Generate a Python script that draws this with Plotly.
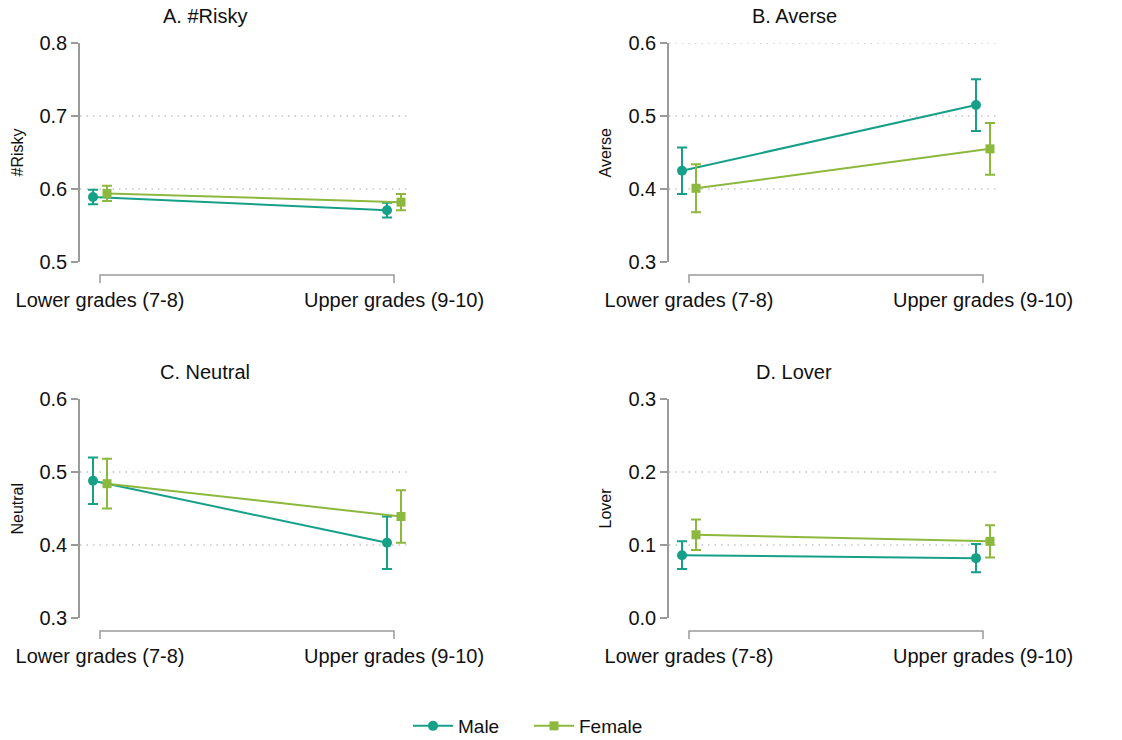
import plotly.graph_objects as go

# Grade groups on the x axis
grades = ["Lower grades (7-8)", "Upper grades (9-10)"]
groups = ["Male", "Female"]

# Panel titles and y-axis labels
panel_titles = ["A. #Risky", "B. Averse", "C. Neutral", "D. Lover"]
panel_ylabels = ["#Risky", "Averse", "Neutral", "Lover"]
panel_yranges = [(0.5, 0.8), (0.3, 0.6), (0.3, 0.6), (0.0, 0.3)]
panel_grid = [[0.6, 0.7], [0.4, 0.5, 0.6], [0.4, 0.5], [0.1, 0.2]]

# Means by grade group
risky_male = [0.589, 0.571]
risky_female = [0.594, 0.582]
averse_male = [0.425, 0.515]
averse_female = [0.401, 0.455]
neutral_male = [0.488, 0.403]
neutral_female = [0.484, 0.439]
lover_male = [0.086, 0.082]
lover_female = [0.114, 0.105]

# Half-widths of the confidence intervals
risky_male_ci = [0.010, 0.010]
risky_female_ci = [0.0105, 0.011]
averse_male_ci = [0.032, 0.0355]
averse_female_ci = [0.033, 0.0355]
neutral_male_ci = [0.032, 0.036]
neutral_female_ci = [0.034, 0.036]
lover_male_ci = [0.019, 0.0195]
lover_female_ci = [0.021, 0.022]

male_means = [risky_male, averse_male, neutral_male, lover_male]
female_means = [risky_female, averse_female, neutral_female, lover_female]
male_ci = [risky_male_ci, averse_male_ci, neutral_male_ci, lover_male_ci]
female_ci = [risky_female_ci, averse_female_ci, neutral_female_ci, lover_female_ci]

W, H = 1122, 740
TEAL = "#16a088"
GREEN = "#8db83e"
AXIS_GRAY = "#9a9a9a"
TEXT = "#111111"
FONT = "Liberation Sans, Arial, sans-serif"

# Pixel layout of the 2x2 grid
col_left = [80, 669]
plot_w = 328
row_top = [43, 399]
plot_h = 219
title_x = [205, 794]
title_y = [16, 372]
ylab_x = [17, 605]

px_per_unit = 294.0
x_lo = -20 / px_per_unit
x_hi = x_lo + plot_w / px_per_unit
dodge = 7 / px_per_unit

fig = go.Figure()
annotations = []
shapes = []

for i in range(4):
    r, c = divmod(i, 2)
    n = i + 1
    xa = "x" if n == 1 else f"x{n}"
    ya = "y" if n == 1 else f"y{n}"
    xkey = "xaxis" if n == 1 else f"xaxis{n}"
    ykey = "yaxis" if n == 1 else f"yaxis{n}"

    x0 = col_left[c]
    top = row_top[r]
    bottom = top + plot_h
    fig.layout[xkey] = dict(
        domain=[x0 / W, (x0 + plot_w) / W],
        range=[x_lo, x_hi],
        anchor=ya,
        showline=False,
        showgrid=False,
        zeroline=False,
        ticks="",
        tickvals=[0, 1],
        ticktext=grades,
        ticklabelstandoff=24,
        tickfont=dict(size=20, color=TEXT, family=FONT),
        fixedrange=True,
    )
    lo, hi = panel_yranges[i]
    fig.layout[ykey] = dict(
        domain=[(H - bottom) / H, (H - top) / H],
        range=[lo, hi],
        anchor=xa,
        showline=True,
        linecolor=AXIS_GRAY,
        linewidth=1.5,
        ticks="outside",
        ticklen=7,
        tickwidth=1.5,
        tickcolor=AXIS_GRAY,
        dtick=0.1,
        tick0=0,
        tickformat=".1f",
        showgrid=False,
        zeroline=False,
        tickfont=dict(size=20, color=TEXT, family=FONT),
        fixedrange=True,
    )

    # dotted reference lines
    for g in panel_grid[i]:
        shapes.append(dict(
            type="line", xref=f"{xa} domain", yref=ya,
            x0=0, x1=1, y0=g, y1=g,
            line=dict(color="#c4c4c4", width=1.5, dash="1.5px,5px"),
            layer="below",
        ))

    # bracket-style x axis below the plot
    yb0 = -13 / plot_h
    yb1 = -21 / plot_h
    shapes.append(dict(
        type="path", xref=xa, yref=f"{ya} domain",
        path=f"M 0,{yb1} L 0,{yb0} L 1,{yb0} L 1,{yb1}",
        line=dict(color=AXIS_GRAY, width=1.5),
    ))

    for name, means, ci, color, symbol, sign in [
        (groups[0], male_means[i], male_ci[i], TEAL, "circle", -1),
        (groups[1], female_means[i], female_ci[i], GREEN, "square", 1),
    ]:
        fig.add_trace(go.Scatter(
            x=[k + sign * dodge for k in range(len(grades))],
            y=means,
            mode="lines+markers",
            name=name,
            legendgroup=name,
            showlegend=(i == 0),
            line=dict(color=color, width=2),
            marker=dict(color=color, symbol=symbol, size=10 if symbol == "circle" else 9),
            error_y=dict(type="data", array=ci, symmetric=True,
                         color=color, thickness=2, width=5),
            xaxis=xa, yaxis=ya,
            cliponaxis=False,
        ))

    annotations.append(dict(
        text=panel_titles[i], x=title_x[c] / W, y=(H - title_y[r]) / H,
        xref="paper", yref="paper", xanchor="center", yanchor="middle",
        showarrow=False, font=dict(size=20, color=TEXT, family=FONT),
    ))
    annotations.append(dict(
        text=panel_ylabels[i], x=ylab_x[c] / W, y=(H - (top + bottom) / 2) / H,
        xref="paper", yref="paper", xanchor="center", yanchor="middle",
        textangle=-90, showarrow=False,
        font=dict(size=16, color=TEXT, family=FONT),
    ))

fig.update_layout(
    width=W, height=H,
    margin=dict(l=0, r=0, t=0, b=0, autoexpand=False),
    paper_bgcolor="white",
    plot_bgcolor="white",
    font=dict(family=FONT, color=TEXT),
    annotations=annotations,
    shapes=shapes,
    showlegend=True,
    legend=dict(
        orientation="h",
        x=408 / W, y=(H - 726) / H,
        xanchor="left", yanchor="middle",
        itemwidth=40,
        entrywidth=66,
        entrywidthmode="pixels",
        font=dict(size=19, color=TEXT, family=FONT),
        bgcolor="rgba(0,0,0,0)",
    ),
)

fig.write_html("out.html")
